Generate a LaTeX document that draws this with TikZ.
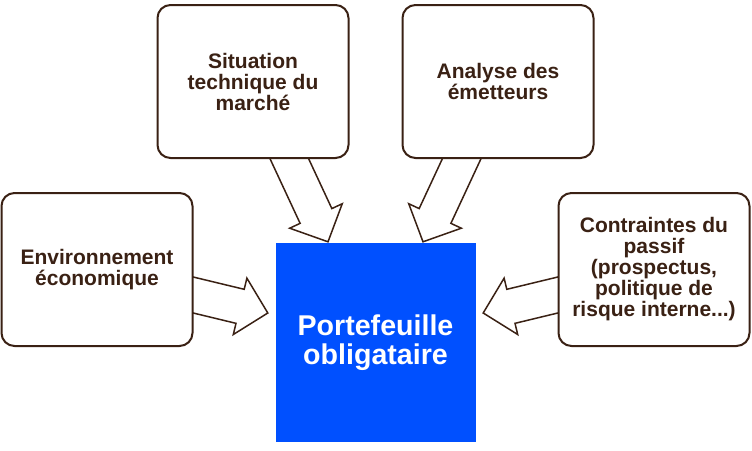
\documentclass[tikz,border=0pt]{standalone}
\usepackage{fontspec}
\setmainfont{Liberation Sans}
\usetikzlibrary{calc}
\definecolor{brn}{HTML}{3A2114}
\definecolor{blu}{HTML}{0050FF}
\pgfdeclarelayer{background}
\pgfsetlayers{background,main}
\newcommand\blockarr[3]{%
  \coordinate (#3h) at ($(#2)!28.5pt!(#1)$);
  \draw[arrowshape] ($(#1)!17.5pt!90:(#2)$) -- ($(#3h)!17.5pt!-90:(#1)$) -- ($(#3h)!29pt!-90:(#1)$) -- (#2) -- ($(#3h)!29pt!90:(#1)$) -- ($(#3h)!17.5pt!90:(#1)$) -- ($(#1)!17.5pt!-90:(#2)$) -- cycle;
}
\begin{document}
\begin{tikzpicture}[x=1pt,y=-1pt,
  box/.style={draw=brn, line width=2pt, fill=white, rounded corners=13pt,
    minimum width=191pt, minimum height=153pt, inner sep=0pt, align=center,
    text=brn, font=\bfseries\fontsize{21}{21}\selectfont},
  core/.style={fill=blu, draw=none, minimum width=200pt, minimum height=199pt,
    inner sep=0pt, align=center, text=white, font=\bfseries\fontsize{28.6}{29}\selectfont},
  arrowshape/.style={draw=brn, line width=1.5pt, fill=white, line join=miter}]
\useasboundingbox (0,0) rectangle (752,450);
\node[box] (env) at (97,269.5) {Environnement\\économique};
\node[box] (sit) at (253,81.5) {Situation\\technique du\\marché};
\node[box] (ana) at (498,81.5) {Analyse des\\émetteurs};
\node[box] (con) at (654,269.5) {Contraintes du\\passif\\(prospectus,\\politique de\\risque interne...)};
\node[core] (port) at (375.5,342.5) {Portefeuille\\obligataire};
\begin{pgfonlayer}{background}
\coordinate (a1) at ($(sit.south)+(29,-16)$);
\coordinate (t1) at ($(port.north)+(-47.5,-1)$);
\coordinate (a2) at ($(ana.south)+(-29,-16)$);
\coordinate (t2) at ($(port.north)+(47.5,-1)$);
\coordinate (a3) at ($(env.east)+(-17.3,21.4)$);
\coordinate (t3) at ($(port.west)+(-7.5,-29.5)$);
\coordinate (a4) at ($(con.west)+(17.3,21.4)$);
\coordinate (t4) at ($(port.east)+(7.5,-29.5)$);
\blockarr{a1}{t1}{b1}
\blockarr{a2}{t2}{b2}
\blockarr{a3}{t3}{b3}
\blockarr{a4}{t4}{b4}
\end{pgfonlayer}
\end{tikzpicture}
\end{document}
